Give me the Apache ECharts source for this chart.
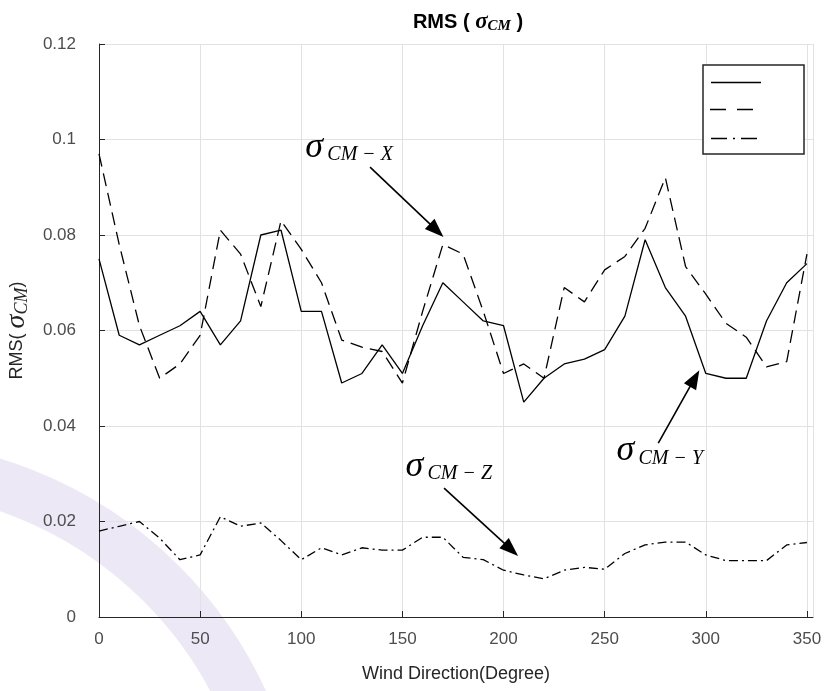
<!DOCTYPE html>
<html><head><meta charset="utf-8">
<script src="https://cdn.jsdelivr.net/npm/echarts/dist/echarts.min.js"></script>
<style>html,body{margin:0;padding:0;background:#fff}#c{width:826px;height:691px}</style>
</head><body><div id="c"></div>
<script>
// ---- data ----
const directions = [0,10,20,30,40,50,60,70,80,90,100,110,120,130,140,150,160,170,180,190,200,210,220,230,240,250,260,270,280,290,300,310,320,330,340,350];
const rmsY = [0.075,0.059,0.057,0.059,0.061,0.064,0.057,0.062,0.080,0.081,0.064,0.064,0.049,0.051,0.057,0.051,0.061,0.070,0.066,0.062,0.061,0.045,0.050,0.053,0.054,0.056,0.063,0.079,0.069,0.063,0.051,0.050,0.050,0.062,0.070,0.074];
const rmsX = [0.097,0.078,0.061,0.050,0.053,0.059,0.081,0.076,0.065,0.083,0.077,0.070,0.058,0.0565,0.0556,0.049,0.064,0.078,0.076,0.064,0.051,0.053,0.050,0.069,0.066,0.0727,0.0755,0.0814,0.092,0.0734,0.0676,0.0615,0.0586,0.0524,0.0535,0.076];
const rmsZ = [0.018,0.019,0.020,0.0165,0.012,0.013,0.021,0.019,0.0197,0.016,0.012,0.0145,0.013,0.0145,0.014,0.014,0.0167,0.0167,0.0125,0.012,0.0098,0.0088,0.008,0.0098,0.0104,0.010,0.0133,0.0151,0.0157,0.0157,0.013,0.0118,0.0118,0.0118,0.0151,0.0156];
const yTickLabels = ['0','0.02','0.04','0.06','0.08','0.1','0.12'];
const xTickLabels = ['0','50','100','150','200','250','300','350'];
// annotation anchors in data coordinates: [tail, tip], label position
const annX = {label:[102.0,0.0984], tail:[134,0.0942], tip:[170.3,0.0796], sub:'CM − X'};
const annY = {label:[255.8,0.0348], tail:[276.5,0.0364], tip:[296.8,0.0517], sub:'CM − Y'};
const annZ = {label:[151.5,0.0316], tail:[170.6,0.0270], tip:[207.2,0.0128], sub:'CM − Z'};

const chart = echarts.init(document.getElementById('c'));
const pairs = arr => directions.map((d,i)=>[d,arr[i]]);
const axisCol = '#262626', labCol = '#4d4d4d', gridCol = '#e2e2e2';
const option = {
  animation:false,
  backgroundColor:'#fff',
  title:{
    text:'{b|RMS ( }{s|σ}{c|CM}{b| )}', left:463, top:6, textAlign:'center',
    textStyle:{rich:{
      b:{fontFamily:'Liberation Sans',fontWeight:'bold',fontSize:20,color:'#000'},
      s:{fontFamily:'Liberation Serif',fontStyle:'italic',fontSize:23,color:'#000'},
      c:{fontFamily:'Liberation Serif',fontStyle:'italic',fontSize:15,color:'#000',verticalAlign:'bottom'}
    }}
  },
  grid:{left:99,right:13,top:44,bottom:74,containLabel:false,outerBoundsMode:'none'},
  xAxis:{
    type:'value', min:0, max:353, interval:50,
    name:'Wind Direction(Degree)', nameLocation:'middle', nameGap:48,
    nameTextStyle:{fontFamily:'Liberation Sans',fontSize:18,color:axisCol},
    axisLine:{show:true,onZero:false,lineStyle:{color:axisCol,width:1}},
    axisTick:{show:true,inside:true,length:6,lineStyle:{color:axisCol}},
    axisLabel:{fontFamily:'Liberation Sans',fontSize:17,color:labCol,margin:14,
      formatter:v=>xTickLabels[Math.round(v/50)] ?? ''},
    splitLine:{show:true,lineStyle:{color:gridCol,width:1}}
  },
  yAxis:{
    type:'value', min:0, max:0.12, interval:0.02,
    name:'{a|RMS( }{s|σ}{c|CM}{a|)}', nameLocation:'middle', nameRotate:90, nameGap:68,
    nameTextStyle:{rich:{
      a:{fontFamily:'Liberation Sans',fontSize:18,color:axisCol},
      s:{fontFamily:'Liberation Serif',fontStyle:'italic',fontSize:28,color:axisCol},
      c:{fontFamily:'Liberation Serif',fontStyle:'italic',fontSize:18,color:axisCol,verticalAlign:'bottom'}
    }},
    axisLine:{show:true,lineStyle:{color:axisCol,width:1}},
    axisTick:{show:true,inside:true,length:6,lineStyle:{color:axisCol}},
    axisLabel:{fontFamily:'Liberation Sans',fontSize:17,color:labCol,margin:23,
      formatter:v=>yTickLabels[Math.round(v/0.02)] ?? ''},
    splitLine:{show:true,lineStyle:{color:gridCol,width:1}}
  },
  series:[
    {name:'σCM-Y',type:'line',data:pairs(rmsY),showSymbol:false,lineStyle:{color:'#000',width:1.3,type:'solid'},z:5},
    {name:'σCM-X',type:'line',data:pairs(rmsX),showSymbol:false,lineStyle:{color:'#000',width:1.3,type:[13,7]},z:5},
    {name:'σCM-Z',type:'line',data:pairs(rmsZ),showSymbol:false,lineStyle:{color:'#000',width:1.3,type:[9,4,2,4]},z:5}
  ]
};
chart.setOption(option);

function px(p){return chart.convertToPixel({gridIndex:0},p);}
function arrow(tail,tip){
  const p0=px(tail), p1=px(tip);
  const dx=p1[0]-p0[0], dy=p1[1]-p0[1], L=Math.hypot(dx,dy), ux=dx/L, uy=dy/L;
  const hl=19, hw=7;
  const bx=p1[0]-ux*hl, by=p1[1]-uy*hl;
  return [
    {type:'line',z:10,shape:{x1:p0[0],y1:p0[1],x2:bx+ux*2,y2:by+uy*2},style:{stroke:'#000',lineWidth:1.6}},
    {type:'polygon',z:10,shape:{points:[[p1[0],p1[1]],[bx-uy*hw,by+ux*hw],[bx+uy*hw,by-ux*hw]]},style:{fill:'#000'}}
  ];
}
function sigmaLabel(a){
  const p=px(a.label);
  return [
    {type:'text',z:10,x:p[0],y:p[1],style:{text:'σ',font:'italic 36px "Liberation Serif"',fill:'#000',textVerticalAlign:'middle'}},
    {type:'text',z:10,x:p[0]+22,y:p[1]+8,style:{text:a.sub,font:'italic 20px "Liberation Serif"',fill:'#000',textVerticalAlign:'middle'}}
  ];
}
const lx=703, ly=65;
const graphics = [
  {type:'arc',z:-10,silent:true,shape:{cx:-125,cy:870,r:405,startAngle:-Math.PI/2,endAngle:0},style:{stroke:'#ece8f5',lineWidth:50,fill:null}},
  ...arrow(annX.tail,annX.tip), ...arrow(annY.tail,annY.tip), ...arrow(annZ.tail,annZ.tip),
  ...sigmaLabel(annX), ...sigmaLabel(annY), ...sigmaLabel(annZ),
  {type:'rect',z:10,shape:{x:lx,y:ly,width:101,height:89},style:{fill:'#fff',stroke:axisCol,lineWidth:1.5}},
  {type:'line',z:11,shape:{x1:711,y1:82.5,x2:761,y2:82.5},style:{stroke:'#000',lineWidth:1.3}},
  {type:'line',z:11,shape:{x1:710,y1:109.5,x2:755,y2:109.5},style:{stroke:'#000',lineWidth:1.3,lineDash:[16,11]}},
  {type:'line',z:11,shape:{x1:711,y1:138.5,x2:762,y2:138.5},style:{stroke:'#000',lineWidth:1.3,lineDash:[16,6,2,6]}}
];
chart.setOption({graphic:graphics});
</script>
</body></html>
